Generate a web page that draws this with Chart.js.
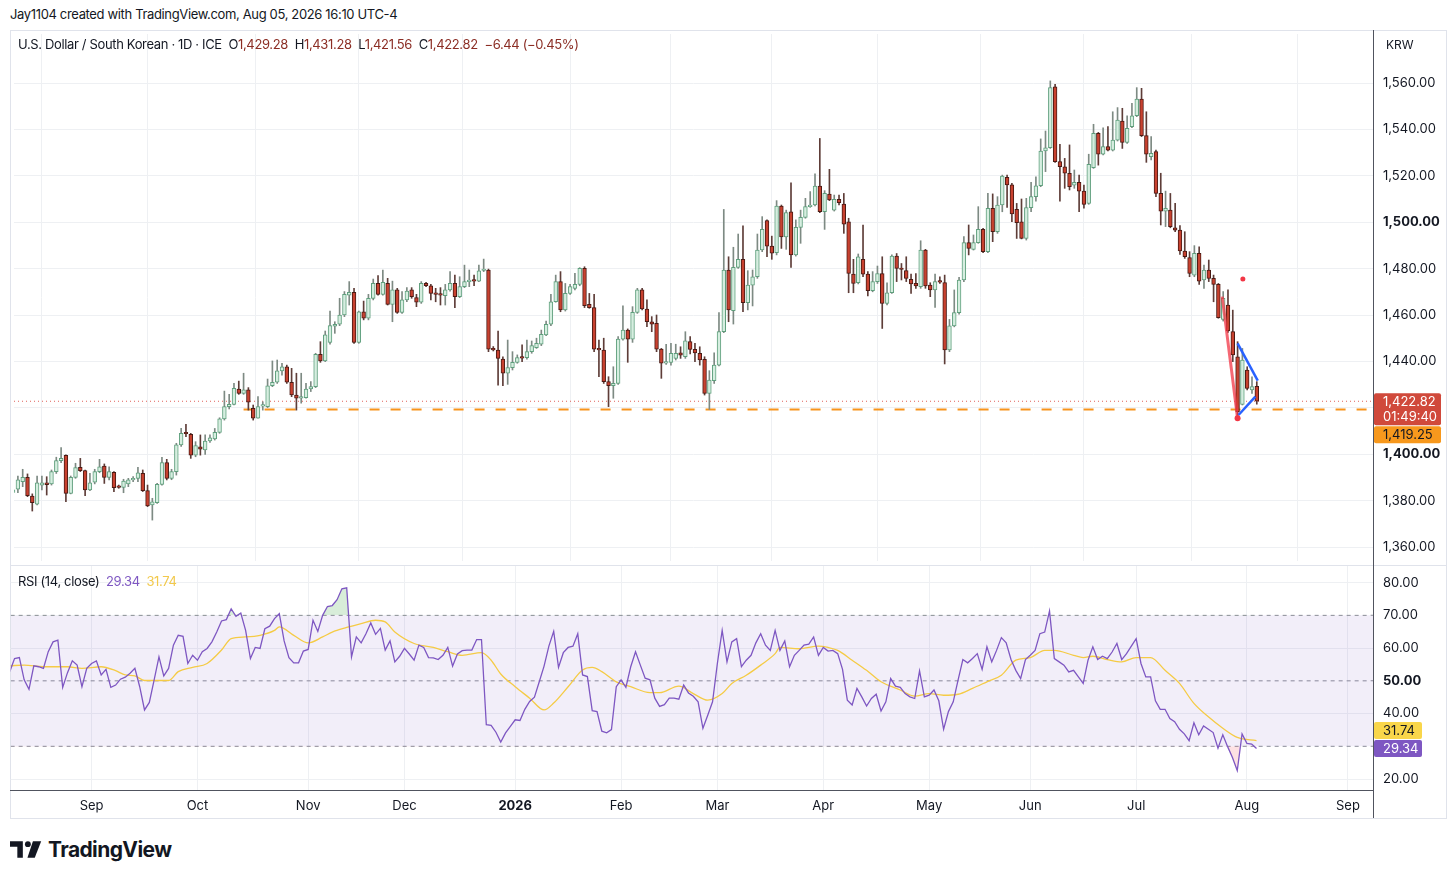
<!DOCTYPE html>
<html>
<head>
<meta charset="utf-8">
<script src="https://cdn.jsdelivr.net/npm/chart.js@4.4.1/dist/chart.umd.min.js"></script>
<style>
  body { margin: 0; background: #fff; width: 1456px; height: 880px; overflow: hidden;
         font-family: Inter, "Noto Sans", sans-serif; color: #131722; position: relative; }
  .abs { position: absolute; white-space: nowrap; }
  .val { color: #8b2d24; }
  .tight { letter-spacing: -0.35px; font-size: 13px; }
  #frame { left: 10px; top: 30px; width: 1435px; height: 787px; border: 1px solid #e0e3eb; }
</style>
</head>
<body>
<div class="abs tight" style="left:10px;top:6px;">Jay1104 created with TradingView.com, Aug 05, 2026 16:10 UTC-4</div>
<div id="frame" class="abs"></div>
<canvas id="priceChart" class="abs" width="1436" height="535" style="left:10px;top:30px;"></canvas>
<canvas id="rsiChart" class="abs" width="1436" height="253" style="left:10px;top:565px;"></canvas>
<div class="abs" style="left:10px;top:565px;width:1436px;height:1px;background:#e0e3eb;"></div>
<div class="abs" style="left:1373px;top:30px;width:1px;height:788px;background:#50535e;"></div>
<div class="abs" style="left:10px;top:790px;width:1364px;height:1px;background:#50535e;"></div>
<div class="abs tight" style="left:18px;top:36px;">U.S. Dollar / South Korean · 1D · ICE&nbsp;&nbsp;O<span class="val">1,429.28</span>&nbsp;&nbsp;H<span class="val">1,431.28</span>&nbsp;&nbsp;L<span class="val">1,421.56</span>&nbsp;&nbsp;C<span class="val">1,422.82</span>&nbsp;&nbsp;<span class="val">−6.44 (−0.45%)</span></div>
<div class="abs" style="left:1386px;top:37px;font-size:12px;">KRW</div>
<div class="abs tight" style="left:18px;top:573px;">RSI (14, close)&nbsp;&nbsp;<span style="color:#7e57c2">29.34</span>&nbsp;&nbsp;<span style="color:#f2c94c">31.74</span></div>
<svg class="abs" style="left:10px;top:841px;" width="33" height="17" viewBox="0 0 36 18">
  <path d="M0 0 H14 V18 H8 V6 H0 Z" fill="#131722"/>
  <circle cx="19.5" cy="3.2" r="3.2" fill="#131722"/>
  <path d="M25 0 H34 L27 18 H19 Z" fill="#131722"/>
</svg>
<div class="abs" style="left:48px;top:837px;font-size:21px;font-weight:700;letter-spacing:-0.6px;">TradingView</div>

<script>
// daily USD/KRW candles, Aug 7 2025 .. Aug 5 2026 (one entry per weekday)
var opens = [
  1383.5,1384.9,1388.2,1390.0,1382.0,1378.5,1386.7,1387.7,1387.2,1392.5,
  1397.2,1399.5,1383.1,1390.0,1394.3,1392.9,1384.6,1387.9,1392.5,1394.9,
  1390.0,1392.2,1386.0,1385.7,1387.2,1388.9,1389.6,1391.8,1384.3,1378.1,
  1379.1,1387.0,1396.4,1389.6,1392.5,1404.0,1409.3,1408.6,1399.6,1403.2,
  1401.8,1405.7,1406.6,1409.4,1415.2,1420.5,1421.5,1428.1,1426.2,1427.7,
  1419.8,1415.5,1420.7,1420.5,1429.5,1431.0,1435.9,1437.7,1431.0,1425.5,
  1424.1,1424.4,1428.1,1429.1,1443.0,1440.2,1448.2,1455.2,1456.0,1460.0,
  1468.6,1469.8,1448.2,1461.4,1458.6,1467.2,1473.6,1468.9,1473.6,1464.6,
  1470.8,1461.1,1466.5,1470.8,1467.5,1465.5,1473.6,1472.6,1469.3,1468.9,
  1468.3,1470.8,1473.6,1467.9,1472.2,1474.4,1475.1,1474.6,1479.2,1479.4,
  1445.3,1444.9,1441.0,1434.9,1437.3,1439.6,1441.8,1441.6,1444.2,1445.9,
  1447.4,1451.4,1456.0,1465.7,1474.4,1462.2,1469.3,1471.5,1473.2,1480.1,
  1464.6,1463.2,1445.3,1444.9,1431.3,1429.5,1430.5,1449.6,1453.5,1449.6,
  1461.1,1470.8,1462.6,1457.1,1456.4,1445.3,1439.2,1439.6,1441.3,1443.7,
  1442.0,1448.5,1445.2,1443.5,1440.9,1426.2,1431.7,1438.4,1452.8,1479.4,
  1461.9,1480.5,1484.0,1465.3,1472.9,1476.5,1488.0,1500.7,1489.7,1486.9,
  1507.0,1493.7,1504.5,1485.9,1497.8,1502.1,1506.7,1507.4,1515.6,1504.5,
  1512.1,1505.2,1509.9,1507.8,1500.2,1477.6,1473.9,1484.0,1477.6,1470.5,
  1474.4,1477.9,1465.0,1469.6,1485.4,1479.8,1479.1,1475.4,1473.6,1472.2,
  1488.0,1472.9,1470.8,1474.4,1474.0,1444.9,1455.3,1461.0,1475.1,1491.2,
  1488.3,1491.2,1496.9,1487.3,1506.0,1495.9,1507.4,1519.3,1516.1,1505.6,
  1500.2,1493.0,1506.3,1511.0,1515.7,1530.7,1532.1,1558.4,1526.1,1523.9,
  1521.1,1516.0,1517.2,1513.4,1508.1,1523.5,1538.3,1529.3,1532.6,1531.1,
  1535.4,1543.6,1534.4,1541.2,1545.9,1553.1,1537.3,1528.2,1530.4,1512.4,
  1504.8,1505.2,1497.6,1496.6,1487.6,1484.7,1477.2,1486.6,1475.1,1479.4,
  1475.8,1473.2,1458.1,1464.3,1452.8,1442.0,1421.5,1436.3,1427.7,1429.28
];
var highs = [
  1386.0,1390.6,1393.5,1391.5,1382.9,1390.6,1390.6,1390.3,1393.2,1398.7,
  1402.9,1399.7,1390.6,1396.1,1398.2,1393.2,1391.8,1393.5,1397.8,1395.8,
  1394.6,1392.5,1386.7,1389.2,1389.6,1390.3,1394.3,1393.2,1386.7,1381.0,
  1387.4,1398.7,1397.8,1393.5,1404.7,1411.1,1412.9,1409.0,1405.4,1408.3,
  1408.3,1408.3,1411.1,1415.7,1427.2,1425.8,1430.5,1431.5,1434.9,1428.7,
  1421.2,1424.8,1422.6,1432.4,1440.2,1440.6,1439.2,1438.4,1437.0,1434.9,
  1434.9,1430.5,1431.3,1443.5,1448.5,1453.1,1461.7,1457.1,1467.2,1470.1,
  1474.4,1471.5,1461.7,1466.0,1468.9,1475.5,1477.0,1479.4,1475.8,1474.6,
  1471.5,1470.1,1471.8,1471.8,1468.9,1474.4,1474.1,1473.2,1471.5,1471.8,
  1473.2,1478.7,1477.2,1476.5,1481.5,1479.4,1477.2,1481.5,1484.1,1479.8,
  1446.4,1453.1,1442.0,1449.2,1444.2,1442.8,1447.1,1449.2,1448.8,1450.0,
  1453.5,1457.4,1468.9,1477.2,1478.7,1473.6,1473.2,1478.0,1480.4,1480.8,
  1469.3,1468.9,1449.2,1450.0,1433.4,1437.7,1450.7,1464.0,1454.0,1463.6,
  1471.5,1471.5,1466.5,1459.3,1460.0,1445.6,1447.4,1447.8,1447.4,1446.3,
  1452.8,1450.7,1447.8,1446.3,1442.0,1436.0,1443.7,1461.0,1505.5,1485.1,
  1489.2,1494.9,1498.4,1479.1,1479.4,1494.9,1502.4,1501.0,1494.0,1509.3,
  1507.4,1505.2,1517.0,1501.0,1505.2,1510.3,1513.2,1520.8,1536.1,1513.6,
  1522.8,1511.7,1511.7,1512.4,1501.7,1484.0,1486.3,1498.8,1478.7,1478.7,
  1481.1,1485.1,1473.9,1485.9,1486.5,1482.2,1485.1,1477.6,1477.9,1492.0,
  1488.3,1473.9,1477.6,1476.5,1477.2,1458.1,1470.8,1476.2,1493.8,1498.8,
  1494.5,1506.7,1497.4,1512.4,1512.2,1511.0,1520.3,1520.3,1516.8,1508.1,
  1510.0,1510.3,1517.2,1519.6,1535.9,1539.3,1560.9,1559.4,1533.6,1527.5,
  1533.3,1522.5,1520.3,1516.0,1529.3,1542.2,1538.7,1540.7,1541.2,1547.6,
  1549.4,1549.1,1545.9,1551.2,1558.0,1557.7,1547.6,1536.9,1531.1,1521.1,
  1513.4,1512.4,1508.1,1498.5,1495.9,1487.3,1489.9,1489.4,1481.5,1483.7,
  1477.2,1473.6,1470.1,1470.8,1462.1,1448.5,1445.6,1437.7,1433.4,1431.28
];
var lows = [
  1382.4,1383.4,1386.0,1381.7,1375.5,1378.1,1384.6,1382.4,1386.7,1391.7,
  1396.4,1379.5,1382.9,1389.6,1392.5,1382.1,1384.3,1387.2,1392.0,1387.4,
  1388.9,1383.9,1385.3,1383.4,1386.0,1388.2,1388.2,1383.9,1377.4,1371.6,
  1378.8,1386.7,1388.9,1389.0,1391.0,1403.3,1407.6,1398.2,1398.9,1399.6,
  1399.9,1405.1,1406.1,1409.0,1414.7,1419.5,1421.2,1425.8,1425.8,1419.0,
  1414.7,1415.5,1419.0,1420.1,1429.1,1430.5,1434.1,1430.5,1424.8,1419.0,
  1422.0,1424.1,1427.0,1428.7,1439.6,1439.9,1447.4,1452.1,1455.4,1459.3,
  1464.3,1447.8,1447.8,1457.9,1457.9,1466.5,1468.5,1468.6,1464.3,1457.1,
  1460.7,1460.7,1465.7,1467.2,1463.6,1465.0,1472.2,1466.5,1465.7,1464.3,
  1464.3,1470.3,1463.2,1467.5,1471.8,1472.2,1472.6,1474.4,1478.7,1444.2,
  1444.5,1429.8,1429.5,1430.1,1436.3,1439.2,1439.9,1441.0,1443.5,1445.6,
  1446.8,1451.1,1455.4,1465.5,1461.4,1461.7,1468.9,1470.8,1472.6,1463.2,
  1462.9,1444.2,1433.4,1430.5,1420.5,1424.1,1430.1,1449.2,1439.6,1448.2,
  1460.7,1462.2,1455.0,1452.8,1444.2,1432.7,1438.7,1438.4,1440.6,1441.3,
  1441.3,1443.2,1439.9,1438.4,1425.5,1419.3,1430.5,1438.0,1452.4,1457.1,
  1456.1,1480.1,1461.4,1462.2,1463.9,1475.8,1487.3,1485.1,1484.0,1485.9,
  1488.7,1488.3,1480.5,1485.4,1490.9,1501.7,1506.4,1507.0,1504.1,1496.9,
  1509.3,1504.8,1507.4,1495.2,1469.6,1469.6,1473.4,1476.5,1468.2,1470.0,
  1473.6,1454.2,1464.3,1469.3,1474.4,1475.1,1474.4,1469.3,1471.5,1471.5,
  1471.5,1467.9,1463.3,1473.6,1438.9,1444.2,1454.9,1460.4,1474.4,1485.9,
  1488.0,1490.9,1486.9,1486.9,1491.6,1495.2,1504.5,1506.4,1500.2,1493.0,
  1492.8,1492.3,1504.5,1509.1,1515.3,1521.8,1531.8,1525.8,1509.1,1514.6,
  1513.9,1514.6,1504.5,1506.0,1507.7,1523.2,1524.6,1529.0,1530.7,1530.7,
  1535.0,1531.8,1534.0,1540.7,1545.5,1536.9,1525.8,1526.8,1511.0,1498.8,
  1498.1,1497.6,1495.9,1486.1,1484.4,1476.5,1476.5,1473.2,1471.5,1474.4,
  1465.7,1458.6,1457.4,1452.5,1439.9,1416.2,1421.2,1427.7,1426.2,1421.56
];
var closes = [
  1384.6,1388.9,1390.0,1382.1,1379.1,1387.7,1387.7,1386.9,1392.5,1397.2,
  1398.2,1383.1,1390.0,1394.2,1392.9,1384.6,1387.7,1392.5,1394.6,1390.0,
  1392.5,1385.6,1385.7,1388.4,1388.9,1389.6,1392.0,1384.3,1377.7,1379.5,
  1387.0,1396.4,1389.6,1392.5,1404.0,1409.0,1408.8,1399.6,1403.7,1402.2,
  1405.7,1407.1,1409.4,1415.2,1420.5,1421.5,1428.4,1426.2,1427.7,1422.4,
  1415.5,1420.5,1421.0,1429.5,1431.0,1435.9,1437.7,1431.0,1425.5,1424.1,
  1424.8,1428.1,1429.1,1443.0,1440.2,1451.4,1455.4,1456.0,1460.0,1468.9,
  1469.8,1448.2,1461.4,1458.6,1467.2,1473.6,1468.9,1474.1,1464.6,1470.8,
  1461.1,1466.5,1470.3,1467.9,1465.5,1473.6,1472.6,1469.3,1468.9,1468.6,
  1470.8,1473.6,1467.9,1472.2,1474.4,1474.6,1474.6,1479.0,1479.4,1445.3,
  1445.0,1441.3,1434.9,1437.3,1439.6,1441.6,1441.4,1444.2,1446.8,1447.8,
  1451.7,1456.0,1465.7,1474.4,1462.2,1469.3,1472.2,1473.2,1480.1,1464.0,
  1463.2,1445.3,1445.0,1431.3,1429.5,1430.5,1449.6,1453.5,1449.6,1461.1,
  1470.8,1462.6,1457.1,1456.0,1445.3,1439.2,1439.9,1443.5,1443.5,1442.7,
  1448.9,1445.2,1443.7,1440.6,1426.2,1432.0,1438.4,1452.8,1479.4,1462.2,
  1480.5,1484.0,1465.3,1472.9,1476.5,1488.0,1496.9,1489.7,1486.6,1507.0,
  1493.7,1504.1,1485.9,1497.8,1502.1,1506.7,1507.4,1515.6,1504.5,1512.4,
  1509.6,1509.9,1508.4,1499.2,1477.9,1473.6,1485.1,1477.6,1470.5,1474.4,
  1477.9,1465.0,1469.6,1485.4,1480.1,1479.6,1475.8,1473.4,1472.5,1488.0,
  1472.5,1470.8,1474.4,1474.2,1444.9,1455.3,1461.0,1475.1,1491.2,1488.7,
  1491.2,1496.9,1487.3,1506.0,1495.9,1507.4,1519.9,1516.1,1503.6,1499.8,
  1493.0,1506.3,1511.0,1515.7,1530.7,1532.1,1558.0,1526.1,1523.9,1521.1,
  1515.3,1517.2,1513.4,1507.7,1524.9,1538.3,1529.3,1532.6,1531.1,1535.4,
  1544.0,1534.4,1540.5,1545.9,1553.1,1537.3,1529.3,1529.7,1512.4,1504.8,
  1506.0,1498.1,1496.6,1487.6,1485.1,1477.9,1486.6,1474.6,1479.4,1475.8,
  1473.2,1458.8,1467.2,1453.1,1442.8,1418.3,1440.6,1428.4,1429.1,1422.82
];
// RSI(14) per bar
var rsiValues = [
  52.8,56.8,57.1,50.3,47.4,54.6,54.3,53.8,58.9,61.9,
  62.4,48.0,52.5,56.1,54.8,48.2,53.8,55.3,56.1,51.8,
  53.5,48.0,48.7,50.5,51.1,52.3,53.8,48.2,41.1,43.4,
  50.3,57.3,51.5,53.8,60.9,63.9,63.6,55.3,57.8,56.3,
  58.9,59.9,61.9,64.9,68.3,68.7,72.0,69.7,70.7,65.4,
  56.8,60.2,59.9,65.9,66.7,69.0,70.5,62.2,57.1,55.5,
  55.5,59.1,59.6,68.5,65.1,70.0,72.7,73.0,74.8,78.1,
  78.4,57.3,63.4,61.6,64.4,67.7,64.2,66.0,59.4,62.2,
  55.8,57.5,59.9,58.2,56.3,60.9,60.2,57.1,57.0,56.5,
  57.8,60.2,54.5,58.2,59.2,59.4,59.4,62.6,62.6,36.6,
  36.4,34.3,31.3,34.1,36.1,38.1,37.9,41.3,43.7,45.0,
  49.7,54.5,60.6,65.1,54.1,58.6,60.2,60.6,64.4,51.8,
  51.3,40.9,40.6,34.6,34.1,35.1,48.2,50.3,48.0,54.3,
  58.9,54.8,50.8,50.3,44.7,42.2,42.7,44.7,44.7,44.4,
  48.7,46.3,45.3,43.6,35.5,39.5,43.6,55.3,65.4,55.8,
  61.9,62.9,54.3,56.3,57.8,61.6,64.4,60.9,59.3,65.4,
  59.3,62.2,54.3,57.8,59.3,60.9,61.2,63.4,57.8,60.2,
  59.1,59.3,58.3,53.5,44.1,42.6,47.7,45.1,42.3,44.6,
  45.9,40.8,43.6,50.7,48.4,48.0,46.1,45.1,44.6,53.0,
  45.1,45.6,47.2,43.9,35.2,40.6,43.6,50.2,56.5,55.5,
  56.8,58.3,53.5,60.4,55.8,59.3,63.2,61.6,56.5,53.2,
  50.7,56.5,57.8,59.3,64.4,64.9,71.3,56.8,55.8,54.8,
  52.7,53.2,51.2,49.2,56.3,60.4,56.5,57.5,56.8,58.8,
  61.4,56.5,58.3,60.6,62.9,55.3,51.2,51.2,43.9,41.3,
  41.3,38.5,37.5,35.2,33.8,31.7,37.2,33.5,36.2,35.2,
  34.2,29.4,33.5,29.9,26.6,22.6,33.8,30.9,30.7,29.34
];
// RSI moving average (yellow), sampled along the curve
var rsiMaIdx = [0,3,7,12,15,19,22,24,26,28,33,35,38,41,44,46,49,52,55,56,59,62,65,67,70,73,76,78,80,84,
  88,91,94,98,100,102,105,108,111,113,116,119,121,123,126,129,133,135,139,142,145,148,150,153,156,159,160,164,168,170,
  172,175,178,181,185,188,191,194,197,200,203,206,209,212,215,217,221,223,225,228,231,234,237,240,243,246,249,252,255,259];
var rsiMaVal = [54.6,54.8,54.3,54.3,53.8,54.3,53.1,51.8,51.5,50.1,50.1,52.8,54.1,55.3,59.4,62.9,63.4,63.9,65.4,66.5,63.9,61.6,63.4,64.9,66.3,67.5,68.5,68.0,64.9,61.4,
  60.2,58.9,57.8,58.6,56.3,52.1,48.2,44.7,41.1,43.2,48.2,53.3,54.1,52.8,49.7,48.2,46.4,46.4,48.4,46.1,44.1,46.1,49.2,51.7,54.8,58.3,60.2,59.8,60.6,60.2,
  59.3,56.3,53.2,49.7,47.2,45.3,46.1,45.6,45.9,47.7,49.7,51.7,56.3,57.1,59.3,59.3,57.8,57.1,57.5,56.5,55.8,57.1,57.1,53.2,49.2,43.1,39.0,35.5,32.7,31.74];

var monthIdx = [17, 39, 62, 82, 105, 127, 147, 169, 191, 212, 234, 257, 278];
var monthLabels = ['Sep', 'Oct', 'Nov', 'Dec', '2026', 'Feb', 'Mar', 'Apr', 'May', 'Jun', 'Jul', 'Aug', 'Sep'];
var priceTicks = [1360, 1380, 1400, 1420, 1440, 1460, 1480, 1500, 1520, 1540, 1560];
var rsiTicks = [20, 30, 40, 50, 60, 70, 80];
var rsiLevels = [70, 50, 30];

var lastPrice = 1422.82, countdown = '01:49:40';
var supportLevel = 1419.25, supportStart = 48;
var rsiLast = 29.34, rsiMaLast = 31.74;

// hand-drawn marks on the chart (bar index, price)
var redStroke = [[251.8, 1467.9], [255.0, 1415.5]];
var redDot = [256.1, 1475.5];
var blueUpper = [[255.0, 1447.8], [259.2, 1431.7]];
var blueLower = [[255.2, 1416.9], [258.7, 1424.8]];

var xMin = 0.19, xMax = 283.2;

Chart.defaults.font.family = 'Inter, "Noto Sans", sans-serif';
Chart.defaults.font.size = 13;
Chart.defaults.color = '#131722';
Chart.defaults.animation = false;

var upFill = '#d6eee0', upBorder = '#5f9f7d', downFill = '#c8412f', downBorder = '#4a1a14';
var gridColor = '#eef0f3';

function pts(arr) { return arr.map(function (p) { return {x: p[0], y: p[1]}; }); }
function fmt(v) { return v.toLocaleString('en-US', {minimumFractionDigits: 2, maximumFractionDigits: 2}); }

var wickData = [], bodyData = [], bodyFill = [], bodyBorder = [], wickColor = [];
for (var i = 0; i < closes.length; i++) {
  var up = closes[i] >= opens[i];
  wickData.push({x: i, y: [lows[i], highs[i]]});
  bodyData.push({x: i, y: [opens[i], closes[i]]});
  bodyFill.push(up ? upFill : downFill);
  bodyBorder.push(up ? upBorder : downBorder);
  wickColor.push(up ? '#7d8a83' : '#5e3d38');
}

function fixWidth(w) {
  return function (s) { s.width = w; s.paddingTop = 0; s.paddingBottom = 0; };
}

// pin a value axis so that refVal sits at page y = refY with pxPerUnit scaling
function pinY(chart, canvasTop, refY, refVal, pxPerUnit) {
  var a = chart.chartArea;
  chart.options.scales.y.max = refVal + (refY - canvasTop - a.top) / pxPerUnit;
  chart.options.scales.y.min = refVal + (refY - canvasTop - a.bottom) / pxPerUnit;
  chart.update('none');
}

var monthTicks = function (s) { s.ticks = monthIdx.map(function (v) { return {value: v}; }); };

function roundRect(ctx, x, y, w, h, r) {
  ctx.beginPath();
  ctx.moveTo(x + r, y);
  ctx.lineTo(x + w - r, y); ctx.quadraticCurveTo(x + w, y, x + w, y + r);
  ctx.lineTo(x + w, y + h - r); ctx.quadraticCurveTo(x + w, y + h, x + w - r, y + h);
  ctx.lineTo(x + r, y + h); ctx.quadraticCurveTo(x, y + h, x, y + h - r);
  ctx.lineTo(x, y + r); ctx.quadraticCurveTo(x, y, x + r, y);
  ctx.closePath();
}

var priceTags = {
  id: 'priceTags',
  afterDraw: function (chart) {
    var ctx = chart.ctx, y = chart.scales.y, left = chart.chartArea.right + 1;
    var py = y.getPixelForValue(lastPrice);
    ctx.save();
    ctx.font = '13px Inter, "Noto Sans", sans-serif';
    ctx.textBaseline = 'middle';
    ctx.fillStyle = '#d0493b';
    roundRect(ctx, left, py - 8, 67, 32, 2); ctx.fill();
    ctx.fillStyle = '#ffffff';
    ctx.fillText(fmt(lastPrice), left + 9, py + 0.5);
    ctx.fillText(countdown, left + 9, py + 15.5);
    var oy = py + 25;
    ctx.fillStyle = '#f7981d';
    roundRect(ctx, left, oy, 67, 17, 2); ctx.fill();
    ctx.fillStyle = '#131722';
    ctx.fillText(fmt(supportLevel), left + 9, oy + 9);
    ctx.restore();
  }
};

var rsiTags = {
  id: 'rsiTags',
  afterDraw: function (chart) {
    var ctx = chart.ctx, y = chart.scales.y, left = chart.chartArea.right + 1;
    var py = y.getPixelForValue(rsiLast);
    ctx.save();
    ctx.font = '13px Inter, "Noto Sans", sans-serif';
    ctx.textBaseline = 'middle';
    ctx.fillStyle = '#7e57c2';
    roundRect(ctx, left, py - 8.5, 48, 17, 2); ctx.fill();
    ctx.fillStyle = '#ffffff';
    ctx.fillText(fmt(rsiLast), left + 9, py + 0.5);
    var ty = py - 8.5 - 18;
    ctx.fillStyle = '#f9d64a';
    roundRect(ctx, left, ty, 48, 17, 2); ctx.fill();
    ctx.fillStyle = '#131722';
    ctx.fillText(fmt(rsiMaLast), left + 9, ty + 9);
    ctx.restore();
  }
};

var priceChart = new Chart(document.getElementById('priceChart'), {
  type: 'bar',
  data: {
    datasets: [
      {type: 'line', data: [{x: xMin, y: lastPrice}, {x: xMax, y: lastPrice}], borderColor: '#e0605a',
       borderWidth: 1, borderDash: [1, 3], pointRadius: 0, order: 5},
      {type: 'line', data: [{x: supportStart, y: supportLevel}, {x: xMax, y: supportLevel}], borderColor: '#f7941d',
       borderWidth: 2, borderDash: [10, 11], pointRadius: 0, order: 4},
      {data: wickData, backgroundColor: wickColor, barThickness: 1, grouped: false, order: 3},
      {data: bodyData, backgroundColor: bodyFill, borderColor: bodyBorder, borderWidth: 1, borderSkipped: false,
       barThickness: 3.8, minBarLength: 1.5, grouped: false, order: 2},
      {type: 'line', data: pts(redStroke), borderColor: 'rgba(242,54,69,0.75)', borderWidth: 3,
       pointRadius: [0, 3], pointBackgroundColor: '#f23645', pointBorderWidth: 0, order: 1},
      {type: 'line', data: [{x: redDot[0], y: redDot[1]}], showLine: false, pointRadius: 2.5,
       pointBackgroundColor: '#f23645', pointBorderWidth: 0, order: 1},
      {type: 'line', data: pts(blueUpper), borderColor: '#2962ff', borderWidth: 2.5, pointRadius: 0, order: 0},
      {type: 'line', data: pts(blueLower), borderColor: '#2962ff', borderWidth: 2.5, pointRadius: 0, order: 0}
    ]
  },
  options: {
    responsive: false,
    layout: {padding: 0},
    plugins: {legend: {display: false}, tooltip: {enabled: false}},
    scales: {
      x: {
        type: 'linear', min: xMin, max: xMax, offset: false,
        afterBuildTicks: monthTicks,
        afterFit: function (s) { s.height = 0; s.paddingLeft = 0; s.paddingRight = 0; },
        ticks: {display: false},
        grid: {color: gridColor, drawTicks: false},
        border: {display: false}
      },
      y: {
        position: 'right', min: 1352.24, max: 1582.84,
        afterBuildTicks: function (s) { s.ticks = priceTicks.map(function (v) { return {value: v}; }); },
        afterFit: fixWidth(73),
        ticks: {
          padding: 10, callback: function (v) { return fmt(v); },
          font: function (c) { return {weight: c.tick && c.tick.value % 100 === 0 ? 'bold' : 'normal'}; }
        },
        grid: {color: gridColor, drawTicks: false},
        border: {display: false}
      }
    }
  },
  plugins: [priceTags]
});
pinY(priceChart, 30, 547, 1360, 2.32);

var maData = rsiMaIdx.map(function (x, k) { return {x: x, y: rsiMaVal[k]}; });
var rsiData = rsiValues.map(function (v, k) { return {x: k, y: v}; });
var levelSets = rsiLevels.map(function (lv, k) {
  return {type: 'line', data: [{x: xMin, y: lv}, {x: xMax, y: lv}], borderColor: '#8a8d96', borderWidth: 1,
    borderDash: [4, 4], pointRadius: 0, order: 5,
    fill: k === 0 ? {target: {value: 30}} : false, backgroundColor: 'rgba(126,87,194,0.1)'};
});

var rsiChart = new Chart(document.getElementById('rsiChart'), {
  type: 'line',
  data: {
    datasets: levelSets.concat([
      {data: rsiData, borderColor: 'rgba(0,0,0,0)', borderWidth: 0, pointRadius: 0, order: 3,
       fill: {target: {value: 30}, above: 'rgba(0,0,0,0)', below: 'rgba(242,54,69,0.15)'}},
      {data: rsiData, borderColor: '#7e57c2', borderWidth: 1.3, pointRadius: 0, order: 1,
       fill: {target: {value: 70}, above: 'rgba(76,175,80,0.22)', below: 'rgba(0,0,0,0)'}},
      {data: maData, borderColor: '#f5cb45', borderWidth: 1.3, pointRadius: 0, order: 2,
       cubicInterpolationMode: 'monotone'}
    ])
  },
  options: {
    responsive: false,
    layout: {padding: 0},
    plugins: {legend: {display: false}, tooltip: {enabled: false}},
    scales: {
      x: {
        type: 'linear', min: xMin, max: xMax, offset: false,
        afterBuildTicks: monthTicks,
        afterFit: function (s) { s.height = 28; s.paddingLeft = 0; s.paddingRight = 0; },
        ticks: {
          autoSkip: false, maxRotation: 0, padding: 8,
          callback: function (v) { var k = monthIdx.indexOf(v); return k >= 0 ? monthLabels[k] : ''; },
          font: function (c) { return {weight: c.tick && c.tick.value === 105 ? 'bold' : 'normal'}; }
        },
        grid: {color: gridColor, drawTicks: false},
        border: {display: false}
      },
      y: {
        position: 'right', min: 16.65, max: 85.18,
        afterBuildTicks: function (s) { s.ticks = rsiTicks.map(function (v) { return {value: v}; }); },
        afterFit: fixWidth(73),
        ticks: {
          padding: 10, callback: function (v) { return fmt(v); },
          font: function (c) { return {weight: c.tick && c.tick.value === 50 ? 'bold' : 'normal'}; }
        },
        grid: {
          color: function (c) { return rsiLevels.indexOf(c.tick && c.tick.value) >= 0 ? 'rgba(0,0,0,0)' : gridColor; },
          drawTicks: false
        },
        border: {display: false}
      }
    }
  },
  plugins: [rsiTags]
});
pinY(rsiChart, 565, 779, 20, 3.283);
</script>
</body>
</html>
